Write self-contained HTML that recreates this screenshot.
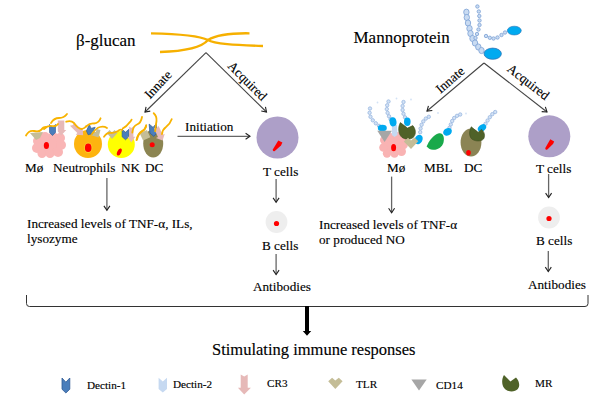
<!DOCTYPE html>
<html><head><meta charset="utf-8">
<style>
html,body{margin:0;padding:0;background:#fff;}
svg{display:block;}
text{font-family:"Liberation Serif",serif;fill:#000;stroke:#000;stroke-width:0.14px;}
</style></head>
<body>
<svg width="600" height="400" viewBox="0 0 600 400">
<defs>
<marker id="ah" markerWidth="12" markerHeight="12" refX="10" refY="6" orient="auto" markerUnits="userSpaceOnUse">
<path d="M5.6,3 L10,6 L5.6,9" fill="none" stroke="#222" stroke-width="1.1"/>
</marker>
</defs>
<!-- titles -->
<text x="76" y="46" font-size="17">β-glucan</text>
<text x="353.5" y="43.3" font-size="17">Mannoprotein</text>

<!-- beta glucan strands -->
<path d="M151,33.3 C185,34 200,36 208,40 C216,35 230,33 249.5,33.3" fill="none" stroke="#f6b000" stroke-width="2.3"/>
<path d="M160,52 C190,51 203,46 208,40 C214,44 235,45 263,46" fill="none" stroke="#f6b000" stroke-width="2.3"/>

<!-- left branch arrows -->
<g stroke="#444" stroke-width="1.1" fill="none">
<path d="M206,52.7 L145,112" marker-end="url(#ah)"/>
<path d="M206,52.7 L266.5,112" marker-end="url(#ah)"/>
<path d="M484,63 L427,111" marker-end="url(#ah)"/>
<path d="M484,63 L547,112" marker-end="url(#ah)"/>
<g stroke="#666" stroke-width="1.3">
<path d="M177.5,136.3 L250,136.3" marker-end="url(#ah)"/>
<path d="M276.1,179 L276.1,202.3" marker-end="url(#ah)"/>
<path d="M276.1,254 L276.1,274.5" marker-end="url(#ah)"/>
<path d="M106.9,178 L106.9,210.3" marker-end="url(#ah)"/>
<path d="M391.6,176.6 L391.6,212.7" marker-end="url(#ah)"/>
<path d="M548.6,174 L548.6,197.5" marker-end="url(#ah)"/>
<path d="M548.3,251 L548.3,271.5" marker-end="url(#ah)"/>
</g>
<path d="M26.5,295 L26.5,303.5 Q26.5,306.5 29.5,306.5 L585,306.5 Q588,306.5 588,303.5 L588,295" stroke="#333" stroke-width="1"/>
</g>
<text transform="translate(159,85.5) rotate(-47)" font-size="13.2" text-anchor="middle" dominant-baseline="middle">Innate</text>
<text transform="translate(246.5,82) rotate(45)" font-size="13.2" text-anchor="middle" dominant-baseline="middle">Acquired</text>
<text transform="translate(451,81) rotate(-41)" font-size="13.2" text-anchor="middle" dominant-baseline="middle">Innate</text>
<text transform="translate(527.5,83) rotate(38)" font-size="13.2" text-anchor="middle" dominant-baseline="middle">Acquired</text>

<text x="185" y="131" font-size="13.2">Initiation</text>
<text x="25" y="172" font-size="13.2">Mø</text>
<text x="53" y="172" font-size="13.2">Neutrophils</text>
<text x="121" y="172" font-size="13.2">NK</text>
<text x="145" y="172" font-size="13.2">DC</text>
<text x="263" y="175.5" font-size="13.2">T cells</text>
<text x="387" y="172" font-size="13.2">Mø</text>
<text x="424" y="172" font-size="13.2">MBL</text>
<text x="464" y="172" font-size="13.2">DC</text>
<text x="536" y="172.5" font-size="13.2">T cells</text>

<text x="27" y="228" font-size="13.2">Increased levels of TNF-α, ILs,</text>
<text x="27" y="242.5" font-size="13.2">lysozyme</text>
<text x="319" y="229" font-size="13.2">Increased levels of TNF-α</text>
<text x="319" y="244" font-size="13.2">or produced NO</text>

<text x="262" y="249.5" font-size="13.2">B cells</text>
<text x="253" y="291" font-size="13.2">Antibodies</text>
<text x="536" y="245" font-size="13.2">B cells</text>
<text x="528" y="289" font-size="13.2">Antibodies</text>


<!-- ===== receptor symbols ===== -->
<defs>
<path id="d1" d="M-4,-7 L0,-3 L4,-7 L4,3 L0,7 L-4,3 Z" fill="#4a7ebb" stroke="#2f5a96" stroke-width="0.8"/>
<path id="d2" d="M-4,-7 L0,-3 L4,-7 L4,3 L0,7 L-4,3 Z" fill="#c6d9f1"/>
<path id="cr3" d="M-3.5,-10 L0,-8 L3.5,-10 L3.5,3 L6.5,3 L0,10 L-6.5,3 L-3.5,3 Z" fill="#e6b9b8"/>
<path id="tlr" d="M-7,-2 L-3.3,-5.5 L0,-2.5 L3.5,-5.5 L7.3,-2 L0,5.5 Z" fill="#c4bd97"/>
<path id="cd14" d="M-7.6,-5.6 L7.6,-5.6 L0,5.6 Z" fill="#a6a6a6"/>
<path id="mr" d="M-6.6,-8 L0.5,-2.5 L5.8,-5 C8.8,-1.5 9.2,3 7,6 C4.5,9.2 -1,9.5 -5,6.8 C-8.6,4 -9.5,-3 -6.6,-8 Z" fill="#4f6228" stroke="#3d4d1f" stroke-width="0.6"/>
<g id="bead"><circle r="2" fill="#c6d9f1" stroke="#95b3d7" stroke-width="0.8"/></g>
</defs>

<!-- ===== LEFT cells (beta-glucan) ===== -->
<!-- Mø pink flower -->
<g fill="#f9b5b5">
<ellipse cx="49" cy="146" rx="12" ry="9"/>
<circle cx="38" cy="141" r="5"/><circle cx="37" cy="148" r="5"/><circle cx="42" cy="153.5" r="4.5"/>
<circle cx="50" cy="153.5" r="4.5"/><circle cx="58" cy="152" r="5"/><circle cx="61" cy="145" r="5"/>
<circle cx="60" cy="138" r="5"/><circle cx="45" cy="137" r="5"/><circle cx="53" cy="137" r="5"/>
</g>
<ellipse cx="46.4" cy="145.5" rx="2.6" ry="3.5" fill="#f00"/>
<path d="M30,133 L43,132 L40,138 L36,140 Z" fill="#c4bd97"/>
<use href="#d1" transform="translate(52.5,130) scale(0.75,0.8)"/>
<path d="M57.8,120.5 L64.3,120.5 L64.3,130 L66.3,130 L61.2,135.5 L57.8,131.5 Z" fill="#e6b9b8"/>
<!-- neutrophil -->
<circle cx="88" cy="144" r="14" fill="#fdb40f"/>
<ellipse cx="88.2" cy="147.8" rx="4.2" ry="5.2" fill="#fccb2e"/>
<ellipse cx="88.2" cy="147.8" rx="3.3" ry="4.3" fill="#f00"/>
<use href="#cr3" transform="translate(77.5,129.5) rotate(-45) scale(0.75,0.8)"/>
<use href="#d1" transform="translate(90.2,130.3) rotate(25) scale(0.8,0.7)"/>
<use href="#tlr" transform="translate(96.5,134) rotate(-30) scale(0.75)"/>
<!-- NK -->
<circle cx="121.3" cy="144.4" r="13.5" fill="#ffff00"/>
<ellipse cx="119.3" cy="152" rx="2" ry="3.8" transform="rotate(25 119.3 152)" fill="#f00"/>
<use href="#tlr" transform="translate(112,134.5) scale(0.75,0.8)"/>
<use href="#d1" transform="translate(125.5,134.5) scale(0.85,0.75)"/>
<use href="#cr3" transform="translate(131.3,134.4) scale(0.6,0.8)"/>
<!-- DC -->
<ellipse cx="153.2" cy="143.6" rx="10" ry="14" fill="#8c8552"/>
<circle cx="152.2" cy="144.7" r="2.5" fill="#f00"/>
<rect x="-4" y="-4" width="8" height="8" fill="#c4bd97" transform="translate(145,135.3) rotate(-25)"/>
<use href="#d1" transform="translate(153.3,130.1) rotate(-5) scale(0.9,0.9)"/>
<use href="#cr3" transform="translate(159.4,133.8) rotate(-25) scale(0.75,0.75)"/>
<!-- yellow glucan strands on cells -->
<g fill="none" stroke="#f8b300" stroke-width="1.8" stroke-linecap="round">
<path d="M26,135.5 Q29,130 34,131 Q39,132 41,130 Q43,127 46,127"/>
<path d="M44,129 Q48,125 52,126 Q56,127 58,124"/>
<path d="M51,123 Q54,118 59,118 Q64,118 67,114"/>
<path d="M66.2,121.7 Q71,120 74,123 Q78,129 82,129 Q85,128 86,126.5"/>
<path d="M86,126.5 Q90,123 94,123.5 Q99,123 100.6,118.3"/>
<path d="M92,134 Q96,128 100,127 Q104,126 107,128"/>
<path d="M104,136.8 Q107,132 111,133 Q115,133 118,131 Q120,129 122,130"/>
<path d="M122.7,128.6 Q127,126 129,123 Q131,121 131.6,119.6"/>
<path d="M132.3,132.7 Q133,126 137,124.5 Q141,123 142,117"/>
<path d="M137,139.6 Q138,134 142,131.5 Q145,130 146,126"/>
<path d="M136.5,140.2 Q137.5,134 142,131 Q146,129 146.2,125.2"/>
<path d="M153.7,113.2 Q157,116 156.5,121 Q155.5,127 155.2,131.2"/>
<path d="M162,134.2 Q162.5,129.5 166,127 Q170,124 171.7,119.2"/>
</g>

<!-- ===== Mannoprotein top ===== -->
<g fill="#c9dbf2" stroke="#86a8d8" stroke-width="0.9"><ellipse cx="466.4" cy="12.2" rx="2.7" ry="3.1"/><ellipse cx="466.8" cy="17.5" rx="2.7" ry="3.1"/><ellipse cx="468" cy="23" rx="2.7" ry="3.1"/><ellipse cx="469.5" cy="28.5" rx="2.7" ry="3.1"/><ellipse cx="470.5" cy="33.5" rx="2.7" ry="3.1"/><ellipse cx="472.5" cy="38.5" rx="2.7" ry="3.1"/><ellipse cx="475" cy="43" rx="2.7" ry="3.1"/><ellipse cx="478.3" cy="47" rx="2.7" ry="3.1"/><ellipse cx="481.5" cy="50.5" rx="2.7" ry="3.1"/><circle cx="477.4" cy="6.5" r="1.7"/><circle cx="478.8" cy="11.5" r="1.7"/><circle cx="479.3" cy="16" r="1.7"/><circle cx="479.5" cy="20.5" r="1.7"/><circle cx="479.5" cy="25" r="1.7"/><circle cx="478.5" cy="29.5" r="1.7"/><circle cx="477" cy="34" r="1.7"/><circle cx="475.5" cy="38" r="1.7"/><circle cx="486" cy="36" r="1.7"/><circle cx="489.8" cy="37.8" r="1.7"/><circle cx="493.5" cy="38.5" r="1.7"/><circle cx="497.5" cy="37.5" r="1.7"/><circle cx="501.5" cy="35" r="1.7"/><circle cx="505" cy="32.5" r="1.7"/></g>
<ellipse cx="492.7" cy="53.7" rx="8.7" ry="5.6" fill="#00aaf0" stroke="#2e75b6" stroke-width="0.8"/>
<ellipse cx="514.3" cy="30.6" rx="7" ry="4.4" fill="#00aaf0" stroke="#2e75b6" stroke-width="0.6"/>
<!-- ===== RIGHT cells (mannoprotein) ===== -->
<g fill="#d3e2f5" stroke="#98b6df" stroke-width="0.8">
<circle cx="370" cy="108.5" r="1.7"/><circle cx="369.6" cy="112.8" r="1.7"/><circle cx="370.5" cy="116.8" r="1.7"/><circle cx="372.8" cy="120.3" r="1.7"/><circle cx="375.8" cy="123.3" r="1.7"/><circle cx="379" cy="125.8" r="1.7"/><circle cx="388.5" cy="101.5" r="1.7"/><circle cx="387.2" cy="105.3" r="1.7"/><circle cx="386.8" cy="109.1" r="1.7"/><circle cx="387.6" cy="112.9" r="1.7"/><circle cx="389" cy="116.3" r="1.7"/><circle cx="390.6" cy="119.3" r="1.7"/><circle cx="403.5" cy="102" r="1.7"/><circle cx="402.6" cy="106" r="1.7"/><circle cx="402.6" cy="110" r="1.7"/><circle cx="403.5" cy="113.8" r="1.7"/><circle cx="405" cy="117.3" r="1.7"/><circle cx="428.8" cy="116.8" r="1.7"/><circle cx="425.8" cy="118.6" r="1.7"/><circle cx="423.3" cy="121.4" r="1.7"/><circle cx="421.6" cy="124.8" r="1.7"/><circle cx="420.6" cy="128.5" r="1.7"/><circle cx="420.2" cy="132.2" r="1.7"/><circle cx="460.2" cy="114.5" r="1.7"/><circle cx="457" cy="115.8" r="1.7"/><circle cx="454.2" cy="118" r="1.7"/><circle cx="452.2" cy="121" r="1.7"/><circle cx="450.8" cy="124.5" r="1.7"/><circle cx="449.5" cy="127.8" r="1.7"/><circle cx="495.2" cy="112" r="1.7"/><circle cx="492.3" cy="114.2" r="1.7"/><circle cx="489.8" cy="117.2" r="1.7"/><circle cx="487.6" cy="120.5" r="1.7"/><circle cx="485.5" cy="123.8" r="1.7"/>
</g>
<g fill="#d3e2f5"><circle cx="377.5" cy="102.5" r="0.9"/><circle cx="396.5" cy="98.5" r="0.9"/><circle cx="411" cy="99.5" r="0.9"/><circle cx="438" cy="113" r="0.9"/><circle cx="466" cy="113.5" r="0.9"/></g>
<!-- right Mø -->
<g fill="#f9b3b3">
<ellipse cx="394" cy="146" rx="10.5" ry="9"/>
<circle cx="384.5" cy="140" r="4.5"/><circle cx="383.5" cy="147.5" r="4.3"/><circle cx="387" cy="153.5" r="4.2"/>
<circle cx="394.5" cy="153.6" r="4.2"/><circle cx="401.5" cy="151.5" r="4.5"/><circle cx="403.5" cy="145" r="4.3"/>
<circle cx="402" cy="138.5" r="4.5"/><circle cx="390" cy="137.5" r="4.5"/><circle cx="397" cy="136.5" r="4.5"/>
</g>
<ellipse cx="393.6" cy="147.7" rx="2.5" ry="3.6" fill="#f00"/>
<path d="M391.9,125 L397,125 L397.5,135 L394.5,137 L391.9,135 Z" fill="#c6d9f1"/>
<ellipse cx="382.3" cy="128" rx="4.5" ry="3.3" fill="#00aaf0"/>
<path d="M377.3,130.8 L391.9,130.8 L384.6,142 Z" fill="#a6a6a6"/>
<ellipse cx="393" cy="121.8" rx="3.5" ry="4.6" transform="rotate(-10 393 121.8)" fill="#00aaf0"/>
<use href="#mr" transform="translate(407,130.6) rotate(0) scale(1)"/>
<ellipse cx="407.3" cy="121.8" rx="3.3" ry="4.2" fill="#00aaf0"/>
<ellipse cx="418.6" cy="139.5" rx="3.8" ry="5" transform="rotate(30 418.6 139.5)" fill="#00aaf0"/>
<path d="M403.8,141.5 L408,137.8 L411,140.4 L414.5,137.6 L418.3,141.3 L411,149 Z" fill="#c4bd97"/>
<!-- MBL -->
<ellipse cx="447.5" cy="131.8" rx="4.6" ry="3.6" transform="rotate(-30 447.5 131.8)" fill="#00aaf0"/>
<path d="M426.6,146.5 C429,141 433,135 439,133.3 C443,132.5 444.6,137 443.6,142 C442.5,147 438,150 433,149.8 C430,149.6 428,148 426.6,146.5 Z" fill="#19a94b"/>
<!-- right DC -->
<ellipse cx="471" cy="142.5" rx="10.4" ry="14" fill="#8b8454"/>
<ellipse cx="468.5" cy="152.7" rx="2.3" ry="2.8" fill="#f00"/>
<ellipse cx="482" cy="128" rx="4.6" ry="3.3" transform="rotate(-40 482 128)" fill="#00aaf0"/>
<path d="M471.3,126.8 L478,132.4 L481.6,129.4 C484.5,132 485.5,136 483.5,139 C481.5,141.5 476,141.5 472.5,139.5 C469,137.5 468.8,131 471.3,126.8 Z" fill="#4f6228" stroke="#3d4d1f" stroke-width="0.6"/>

<!-- T cells -->
<circle cx="277.5" cy="137.5" r="21" fill="#ad9fc8"/>
<path d="M272.8,149.5 Q272.5,151.8 274.8,151 L281,145.5 L282.4,142.6 L278.3,140.5 Z" fill="#f00"/>
<circle cx="549.3" cy="136.3" r="21" fill="#ad9fc8"/>
<path d="M545.3,148 Q545,150.3 547.3,149.5 L553,144 L554.2,141.6 L550.3,139.3 Z" fill="#f00"/>
<!-- B cells -->
<circle cx="276.5" cy="222" r="10.9" fill="#eeeeee"/>
<circle cx="276.5" cy="223.5" r="2.6" fill="#f00"/>
<circle cx="549" cy="217.5" r="10.9" fill="#eeeeee"/>
<circle cx="549" cy="218.5" r="2.6" fill="#f00"/>

<!-- big arrow -->
<path d="M305,306 L305,331 L302.8,331 L307,335.8 L311.2,331 L309,331 L309,306 Z" fill="#000"/>
<text x="212" y="355" font-size="16.5">Stimulating immune responses</text>

<!-- legend icons -->
<path d="M62,378 L65.9,382.2 L69.8,378 L69.8,389.2 L65.9,393 L62,389.2 Z" fill="#4a7ebb" stroke="#2f5a96" stroke-width="0.8"/>
<path d="M158.6,377.7 L162.8,381.5 L167,377.7 L167,388.9 L162.8,392.4 L158.6,388.9 Z" fill="#c6d9f1"/>
<path d="M240.7,374.5 L244.2,376.6 L247.7,374.5 L247.7,387.8 L250.9,387.8 L244.2,394.5 L237.9,387.8 L240.7,387.8 Z" fill="#e6b9b8"/>
<path d="M328.2,381.2 L332.1,377.7 L335.3,380.5 L338.8,377.7 L342.6,381.2 L335.3,388.9 Z" fill="#c4bd97"/>
<path d="M411.4,379.4 L426.7,379.4 L419,390.6 Z" fill="#a6a6a6"/>
<path d="M504,375.1 L510.4,381.5 L516,377.4 C519.5,381 520.2,386 517.8,389 C515.2,392 509,392.2 505.5,389.5 C501.8,386.8 501,380 504,375.1 Z" fill="#4f6228"/>
<!-- legend -->
<text x="87" y="389" font-size="11.2">Dectin-1</text>
<text x="173" y="387.5" font-size="11.2">Dectin-2</text>
<text x="267" y="387" font-size="11.2">CR3</text>
<text x="356" y="387.5" font-size="11.2">TLR</text>
<text x="436" y="389" font-size="11.2">CD14</text>
<text x="535" y="387" font-size="11.2">MR</text>
</svg>
</body></html>
